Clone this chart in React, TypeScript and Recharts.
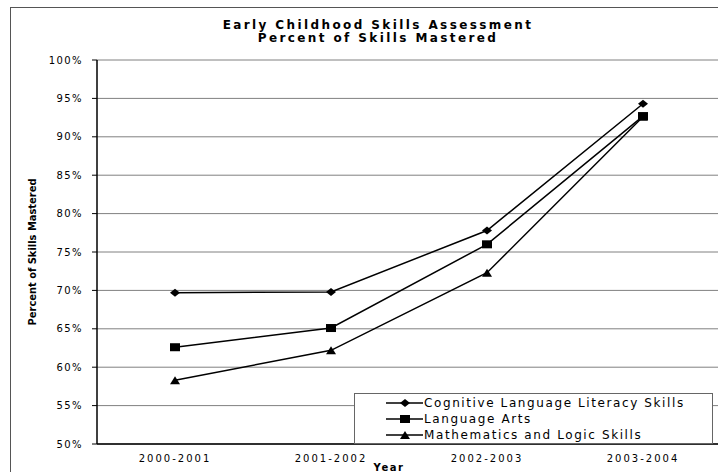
import { LineChart, Line, XAxis, YAxis, CartesianGrid, Legend } from 'recharts';

const years = ['2000-2001', '2001-2002', '2002-2003', '2003-2004'];
const cognitive = [69.7, 69.8, 77.8, 94.3];
const languageArts = [62.6, 65.1, 76.0, 92.7];
const mathLogic = [58.3, 62.2, 72.3, 92.6];
const yTicks = [50, 55, 60, 65, 70, 75, 80, 85, 90, 95, 100];

const seriesNames = [
  'Cognitive Language Literacy Skills',
  'Language Arts',
  'Mathematics and Logic Skills',
];

const data = years.map((year, i) => ({
  year,
  cognitive: cognitive[i],
  languageArts: languageArts[i],
  mathLogic: mathLogic[i],
}));

const FONT = '"DejaVu Sans", Verdana, sans-serif';

function diamond(cx: number, cy: number, key?: string) {
  return <polygon key={key} points={`${cx - 5},${cy} ${cx},${cy - 4} ${cx + 5},${cy} ${cx},${cy + 4}`} fill="#000" />;
}
function square(cx: number, cy: number, key?: string) {
  return <rect key={key} x={cx - 5} y={cy - 4} width={10} height={8} fill="#000" />;
}
function triangle(cx: number, cy: number, key?: string) {
  return <polygon key={key} points={`${cx - 5},${cy + 4} ${cx},${cy - 4} ${cx + 5},${cy + 4}`} fill="#000" />;
}

const markers = [diamond, square, triangle];

function makeDot(i: number) {
  return (props: any) => {
    const { cx, cy, index } = props;
    if (cx == null || cy == null) return <g key={`d${i}-${index}`} />;
    return markers[i](cx, cy, `d${i}-${index}`);
  };
}

function LegendBox() {
  return (
    <div
      style={{
        width: 357,
        height: 48,
        border: '1px solid #666',
        background: '#fff',
        fontFamily: FONT,
        fontSize: 12,
        letterSpacing: 1.6,
        color: '#000',
        paddingTop: 1,
      }}
    >
      {seriesNames.map((name, i) => (
        <div key={name} style={{ display: 'flex', alignItems: 'center', height: 16 }}>
          <svg width={69} height={16} style={{ flex: 'none' }}>
            <line x1={31} y1={8} x2={68} y2={8} stroke="#000" strokeWidth={1.5} />
            {markers[i](50, 8)}
          </svg>
          <span style={{ whiteSpace: 'nowrap' }}>{name}</span>
        </div>
      ))}
    </div>
  );
}

export default function App() {
  return (
    <div
      style={{
        position: 'absolute',
        left: 0,
        top: 0,
        width: 718,
        height: 472,
        overflow: 'hidden',
        background: '#fff',
      }}
    >
      {/* chart area border */}
      <div
        style={{
          position: 'absolute',
          left: 10,
          top: 7,
          width: 800,
          height: 600,
          border: '1px solid #555',
        }}
      />
      <div
        style={{
          position: 'absolute',
          left: 178,
          top: 19,
          width: 400,
          textAlign: 'center',
          fontFamily: FONT,
          fontWeight: 'bold',
          fontSize: 12,
          letterSpacing: 2.4,
          lineHeight: '13px',
          color: '#000',
        }}
      >
        <div>Early Childhood Skills Assessment</div>
        <div>Percent of Skills Mastered</div>
      </div>
      <div style={{ position: 'absolute', left: 0, top: 0 }}>
        <LineChart width={730} height={472} data={data} margin={{ top: 60, right: 9, bottom: 0, left: 0 }}>
          <CartesianGrid vertical={false} stroke="#808080" strokeWidth={1} />
          <XAxis
            dataKey="year"
            height={28}
            padding={{ left: 78, right: 78 }}
            tickLine={false}
            tickMargin={5}
            axisLine={{ stroke: '#000', strokeWidth: 1.5 }}
            tick={{ fontFamily: FONT, fontSize: 10, fill: '#000', letterSpacing: 2 }}
            label={{
              value: 'Year',
              position: 'insideBottom',
              offset: 1,
              dx: -20,
              style: { fontFamily: FONT, fontSize: 10, fontWeight: 'bold', fill: '#000', letterSpacing: 1.5 },
            }}
          />
          <YAxis
            width={97}
            domain={[50, 100]}
            ticks={yTicks}
            interval={0}
            tickSize={5}
            tickMargin={9}
            tickFormatter={(v: number) => `${v}%`}
            axisLine={{ stroke: '#000', strokeWidth: 1.5 }}
            tickLine={{ stroke: '#000' }}
            tick={{ fontFamily: FONT, fontSize: 10, fill: '#000', letterSpacing: 1.4 }}
            label={{
              value: 'Percent of Skills Mastered',
              angle: -90,
              position: 'insideLeft',
              offset: 32,
              style: {
                textAnchor: 'middle',
                fontFamily: '"Liberation Sans Narrow", "DejaVu Sans Condensed", sans-serif',
                fontSize: 11,
                fontWeight: 'bold',
                fill: '#000',
              },
            }}
          />
          <Legend
            layout="vertical"
            align="center"
            verticalAlign="middle"
            wrapperStyle={{ left: 354, top: 393, width: 359, height: 50 }}
            content={() => <LegendBox />}
          />
          <Line
            dataKey="cognitive"
            name={seriesNames[0]}
            stroke="#000"
            strokeWidth={1.5}
            dot={makeDot(0)}
            activeDot={false}
            isAnimationActive={false}
          />
          <Line
            dataKey="languageArts"
            name={seriesNames[1]}
            stroke="#000"
            strokeWidth={1.5}
            dot={makeDot(1)}
            activeDot={false}
            isAnimationActive={false}
          />
          <Line
            dataKey="mathLogic"
            name={seriesNames[2]}
            stroke="#000"
            strokeWidth={1.5}
            dot={makeDot(2)}
            activeDot={false}
            isAnimationActive={false}
          />
        </LineChart>
      </div>
    </div>
  );
}
